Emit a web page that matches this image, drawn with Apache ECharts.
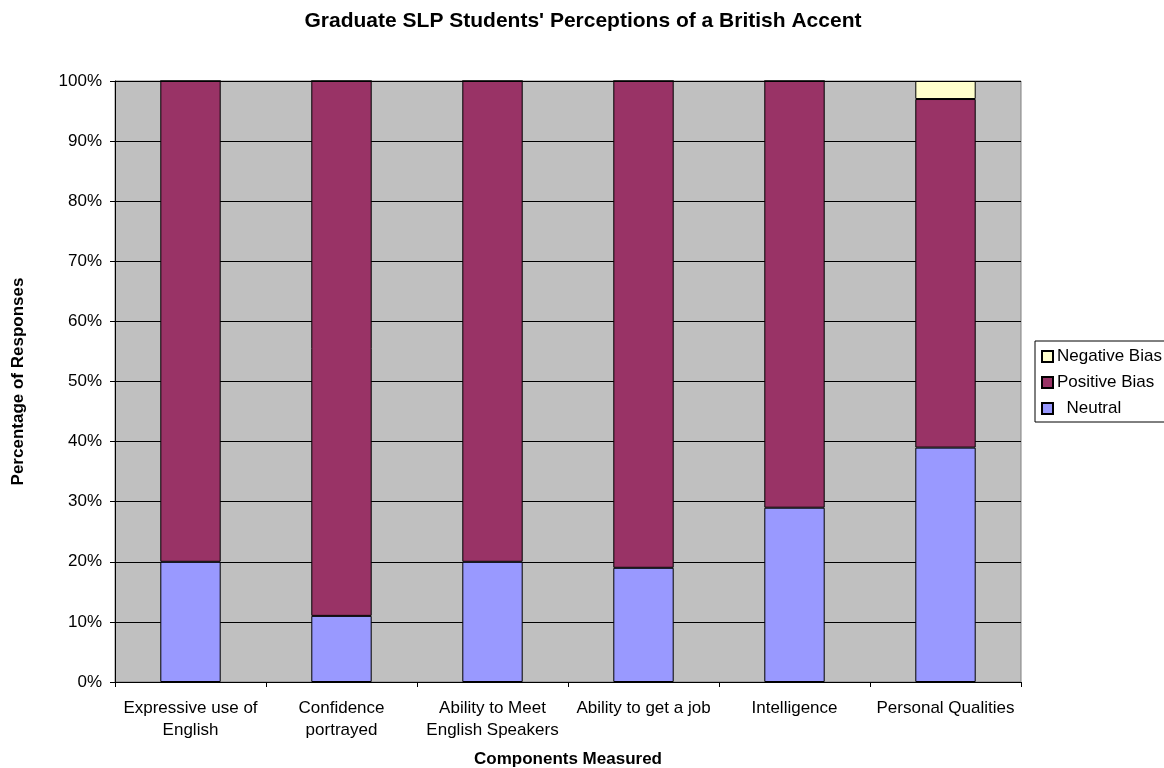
<!DOCTYPE html>
<html>
<head>
<meta charset="utf-8">
<script src="https://cdn.jsdelivr.net/npm/echarts@6/dist/echarts.min.js"></script>
<style>html,body{margin:0;padding:0;background:#fff;}#c{width:1164px;height:768px;}</style>
</head>
<body>
<div id="c"></div>
<script>
const categories = ['Expressive use of\nEnglish', 'Confidence\nportrayed', 'Ability to Meet\nEnglish Speakers', 'Ability to get a job', 'Intelligence', 'Personal Qualities'];
const neutral = [20, 11, 20, 19, 29, 39];
const positiveBias = [80, 89, 80, 81, 71, 58];
const negativeBias = [0, 0, 0, 0, 0, 3];
const yTicks = [0, 10, 20, 30, 40, 50, 60, 70, 80, 90, 100];

const font = 'Liberation Sans, Arial, sans-serif';
const chart = echarts.init(document.getElementById('c'));
const barBorder = { borderColor: '#000', borderWidth: 1 };
chart.setOption({
  animation: false,
  textStyle: { fontFamily: font },
  title: {
    text: "Graduate SLP Students' Perceptions of a British Accent",
    left: 578, top: 6, textAlign: 'center',
    textStyle: { fontFamily: font, fontSize: 21, fontWeight: 'bold', color: '#000' }
  },
  legend: {
    orient: 'vertical', left: 1035, top: 341,
    data: ['Negative Bias', 'Positive Bias', 'Neutral'],
    formatter: n => n === 'Neutral' ? '  Neutral' : n,
    itemWidth: 11, itemHeight: 11, itemGap: 9,
    padding: [7, 6, 5, 6],
    borderColor: '#000', borderWidth: 1, borderRadius: 0,
    textStyle: { fontFamily: font, fontSize: 17, color: '#000', padding: [0, 0, 0, -1] },
    icon: 'rect'
  },
  grid: {
    left: 115, right: 143, top: 81, bottom: 86,
    outerBoundsMode: 'none', containLabel: false,
    show: true, backgroundColor: '#c0c0c0', borderColor: '#808080', borderWidth: 1
  },
  xAxis: {
    type: 'category', data: categories,
    name: 'Components Measured', nameLocation: 'middle', nameGap: 69,
    nameTextStyle: { fontFamily: font, fontSize: 17, fontWeight: 'bold', color: '#000' },
    axisLine: { lineStyle: { color: '#000', width: 1 } },
    axisTick: { show: true, length: 5, alignWithLabel: false, lineStyle: { color: '#000' } },
    axisLabel: { fontFamily: font, fontSize: 17, color: '#000', margin: 15, lineHeight: 22, interval: 0 }
  },
  yAxis: {
    type: 'value', min: 0, max: 100, interval: 10,
    name: 'Percentage of Responses', nameLocation: 'middle', nameGap: 88,
    nameTextStyle: { fontFamily: font, fontSize: 17, fontWeight: 'bold', color: '#000' },
    axisLine: { show: true, lineStyle: { color: '#000', width: 1 } },
    axisTick: { show: true, length: 5, lineStyle: { color: '#000' } },
    axisLabel: { fontFamily: font, fontSize: 17, color: '#000', margin: 13,
      formatter: v => yTicks.includes(v) ? v + '%' : '' },
    splitLine: { show: true, lineStyle: { color: '#000', width: 1 } }
  },
  series: [
    { name: 'Neutral', type: 'bar', stack: 't', data: neutral, barWidth: '40%',
      itemStyle: Object.assign({ color: '#9999ff' }, barBorder) },
    { name: 'Positive Bias', type: 'bar', stack: 't', data: positiveBias, barWidth: '40%',
      itemStyle: Object.assign({ color: '#993366' }, barBorder) },
    { name: 'Negative Bias', type: 'bar', stack: 't', data: negativeBias, barWidth: '40%',
      itemStyle: Object.assign({ color: '#ffffcc' }, barBorder) }
  ]
});
</script>
</body>
</html>
